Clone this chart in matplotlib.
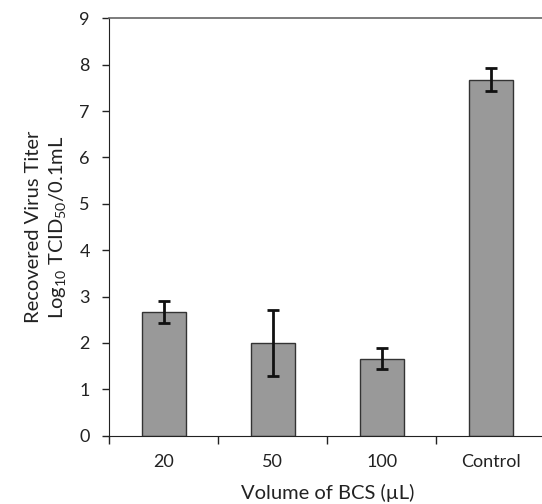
import matplotlib
matplotlib.use("Agg")
import matplotlib.pyplot as plt
import numpy as np

categories = ["20", "50", "100", "Control"]
values = [2.67, 2.00, 1.66, 7.68]
errors = [0.24, 0.71, 0.23, 0.24]
yticks = [0, 1, 2, 3, 4, 5, 6, 7, 8, 9]

plt.rcParams['font.family'] = ['Lato', 'DejaVu Sans']
plt.rcParams['mathtext.fontset'] = 'custom'
plt.rcParams['mathtext.rm'] = 'Lato'
plt.rcParams['mathtext.it'] = 'Lato:italic'
plt.rcParams['mathtext.bf'] = 'Lato:bold'

fig = plt.figure(figsize=(5.42, 5.04), dpi=100)
W, H = 542, 504
x0, x1 = 109.3, 545.5
y_top, y_bot = 18.3, 435.7
ax = fig.add_axes([x0 / W, (H - y_bot) / H, (x1 - x0) / W, (y_bot - y_top) / H])

x = np.arange(len(categories))
ax.bar(x, values, width=0.4, color="#999999", edgecolor="#333333", linewidth=1.0, zorder=2)
ax.errorbar(x, values, yerr=errors, fmt="none", ecolor="#111111", elinewidth=2.0,
            capsize=4, capthick=2.0, zorder=3)

ax.set_xlim(-0.5, 3.5)
ax.set_ylim(0, 9)
ax.set_yticks(yticks)
ax.set_yticklabels([str(t) for t in yticks])

ax.set_xticks([-0.5, 0.5, 1.5, 2.5])
ax.set_xticklabels([])
ax.set_xticks(x, minor=True)
ax.set_xticklabels(categories, minor=True)
ax.tick_params(axis="x", which="major", direction="out", length=6, width=1, color="#222222")
ax.tick_params(axis="x", which="minor", length=0, pad=13, labelsize=13, labelcolor="#222222")
ax.tick_params(axis="y", direction="out", length=5, width=1, color="#222222",
               labelsize=13, labelcolor="#222222", pad=9)

ax.spines["right"].set_visible(False)
ax.spines["top"].set_color("#666666")
ax.spines["top"].set_linewidth(1.2)
ax.spines["left"].set_color("#222222")
ax.spines["bottom"].set_color("#222222")

ax.set_xlabel("Volume of BCS (\u00b5L)", fontsize=14.5, color="#222222", labelpad=10)
ax.set_ylabel("Recovered Virus Titer\nLog$_{\\mathrm{10}}$ TCID$_{\\mathrm{50}}$/0.1mL", fontsize=14.5,
              color="#222222", labelpad=8, linespacing=1.3)

fig.savefig("out.png", dpi=100)
